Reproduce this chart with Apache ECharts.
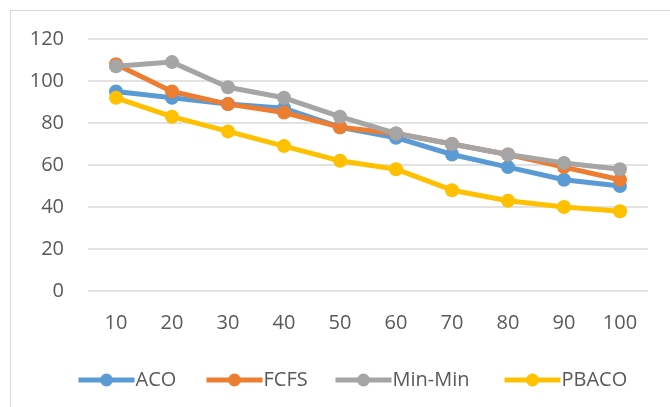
<!DOCTYPE html>
<html><head><meta charset="utf-8">
<script src="https://cdn.jsdelivr.net/npm/echarts@6/dist/echarts.min.js"></script>
<style>html,body{margin:0;padding:0;background:#fff}#c{width:670px;height:407px}</style>
</head><body><div id="c"></div>
<script>
const categories = ['10','20','30','40','50','60','70','80','90','100'];
const aco = [95, 92, 89, 87, 78, 73, 65, 59, 53, 50];
const fcfs = [108, 95, 89, 85, 78, 75, 70, 65, 59, 53];
const minmin = [107, 109, 97, 92, 83, 75, 70, 65, 61, 58];
const pbaco = [92, 83, 76, 69, 62, 58, 48, 43, 40, 38];
const names = ['ACO','FCFS','Min-Min','PBACO'];
const colors = ['#5B9BD5','#ED7D31','#A5A5A5','#FFC000'];
const seriesData = [aco, fcfs, minmin, pbaco];
const legendLeft = [71, 199, 328, 497];
const font = 'Open Sans';
const chart = echarts.init(document.getElementById('c'));
chart.setOption({
  animation: false,
  graphic: [{type:'rect', shape:{x:10.5,y:10.5,width:700,height:450}, style:{fill:'none',stroke:'#d9d9d9',lineWidth:1}}],
  grid: {left: 88, right: 22, top: 39, bottom: 116},
  legend: names.map((n,i)=>({
    top: 365, left: legendLeft[i], itemWidth: 56, itemHeight: 16,
    lineStyle: {width: 5},
    textStyle: {color:'#595959', fontFamily: font, fontSize: 20, padding:[0,0,0,-4]},
    data: [n]
  })),
  xAxis: {
    type: 'category', data: categories, boundaryGap: true,
    axisLine: {show: false}, axisTick: {show: false},
    axisLabel: {color:'#595959', fontFamily: font, fontSize: 20, margin: 22}
  },
  yAxis: {
    type: 'value', min: 0, max: 120, interval: 20,
    axisLine: {show:false}, axisTick:{show:false},
    axisLabel: {color:'#595959', fontFamily: font, fontSize: 20, margin: 24},
    splitLine: {lineStyle: {color:'#d9d9d9', width: 1.5}}
  },
  series: seriesData.map((d,i)=>({
    name: names[i], type: 'line', data: d,
    symbol: 'circle', symbolSize: 14,
    lineStyle: {color: colors[i], width: 5},
    itemStyle: {color: colors[i]}
  }))
});
</script></body></html>
